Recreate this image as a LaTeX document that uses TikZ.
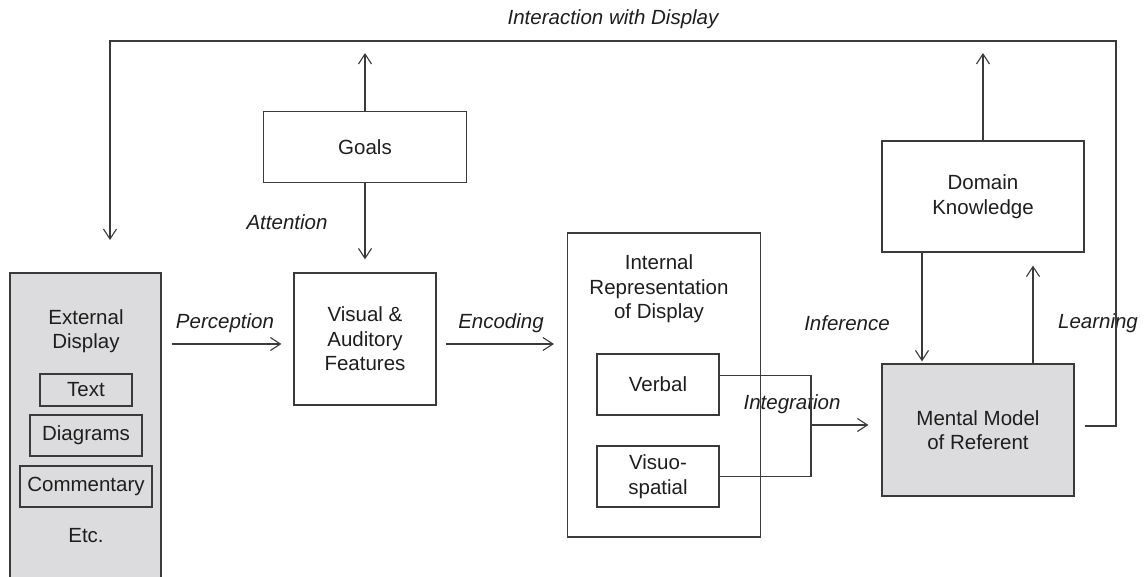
\documentclass[tikz,border=0pt]{standalone}
\usepackage{fontspec}
\setmainfont{Liberation Sans}
\usetikzlibrary{arrows.meta}
\definecolor{ln}{HTML}{3A3A3A}
\definecolor{gfill}{HTML}{DCDCDE}
\definecolor{txt}{HTML}{1E1E1E}
\begin{document}
\begin{tikzpicture}[x=1pt,y=-1pt,
  every node/.style={font=\fontsize{20.5}{24.5}\selectfont, text=txt, align=center, inner sep=0pt},
  box/.style={draw=ln, line width=1.2pt},
  gbox/.style={box, fill=gfill},
  lbl/.style={font=\fontsize{20.5}{24.5}\selectfont\itshape},
  conn/.style={draw=ln, line width=1.1pt},
  arr/.style={conn, -{Straight Barb[length=10pt,width=13pt,line width=1.1pt]}}
]
\useasboundingbox (0,0) rectangle (1144,577);

% nodes
\node[gbox, minimum width=151pt, minimum height=307pt] (ext) at (85.5,426.5) {};
\node (extlbl) at (86,331) {External\\Display};
\node[box, minimum width=92pt, minimum height=32pt] (text) at (86,390) {Text};
\node[box, minimum width=112pt, minimum height=41pt] (diag) at (86,435.5) {Diagrams};
\node[box, minimum width=132pt, minimum height=41pt] (comm) at (86,486.5) {Commentary};
\node (etc) at (86,536) {Etc.};

\node[box, minimum width=142pt, minimum height=132pt] (vaf) at (365,339) {Visual \&\\Auditory\\Features};
\node[box, minimum width=203pt, minimum height=71pt] (goals) at (365,147) {Goals};

\node[box, minimum width=193pt, minimum height=304pt] (irep) at (664,385) {};
\node (ireplbl) at (659,289) {Internal\\Representation\\of Display};
\node[box, minimum width=122pt, minimum height=61pt] (verbal) at (658,384.5) {Verbal};
\node[box, minimum width=122pt, minimum height=61pt] (visuo) at (658,476.5) {Visuo-\\spatial};

\node[gbox, minimum width=192pt, minimum height=132pt] (mm) at (978,430) {Mental Model\\of Referent};
\node[box, minimum width=202pt, minimum height=111pt] (dk) at (983,196.5) {Domain\\Knowledge};

% coordinates
\coordinate (tl) at (110,41);
\coordinate (tr) at (1116,41);
\coordinate (ldown) at (110,240);
\coordinate (j) at (811,425);

% labels
\node[lbl] (linter) at (613,19) {Interaction with Display};
\node[lbl] (latt) at (287,222) {Attention};
\node[lbl] (lperc) at (225,323) {Perception};
\node[lbl] (lenc) at (501,323) {Encoding};
\node[lbl] (linf) at (847,323) {Inference};
\node[lbl] (lint) at (792,404) {Integration};
\node[lbl] (llearn) at (1098,323) {Learning};

% connectors
\draw[arr, shorten <=10pt, shorten >=12pt] ([yshift=-5pt]ext.east |- vaf.west) -- ([yshift=-5pt]vaf.west);
\draw[arr, shorten <=9pt, shorten >=13pt] ([yshift=-5pt]vaf.east) -- ([yshift=-5pt]vaf.east -| irep.west);
\draw[arr, shorten >=12pt] (goals.north) -- (goals.north |- tl);
\draw[arr, shorten >=13pt] (goals.south) -- (vaf.north);
\draw[arr, shorten <=10pt] ([yshift=4pt]mm.east) -| (tr) -| (ldown);
\draw[arr, shorten >=12pt] (dk.north) -- (dk.north |- tl);
\draw[arr, shorten >=2pt] (dk.south -| 922,0) -- (mm.north -| 922,0);
\draw[arr, shorten >=13pt] (mm.north -| 1033,0) -- (dk.south -| 1033,0);
\draw[conn] ([yshift=9pt]verbal.east) -| (j) |- (visuo.east);
\draw[arr, shorten >=13pt] (j) -- (j -| mm.west);
\end{tikzpicture}
\end{document}
